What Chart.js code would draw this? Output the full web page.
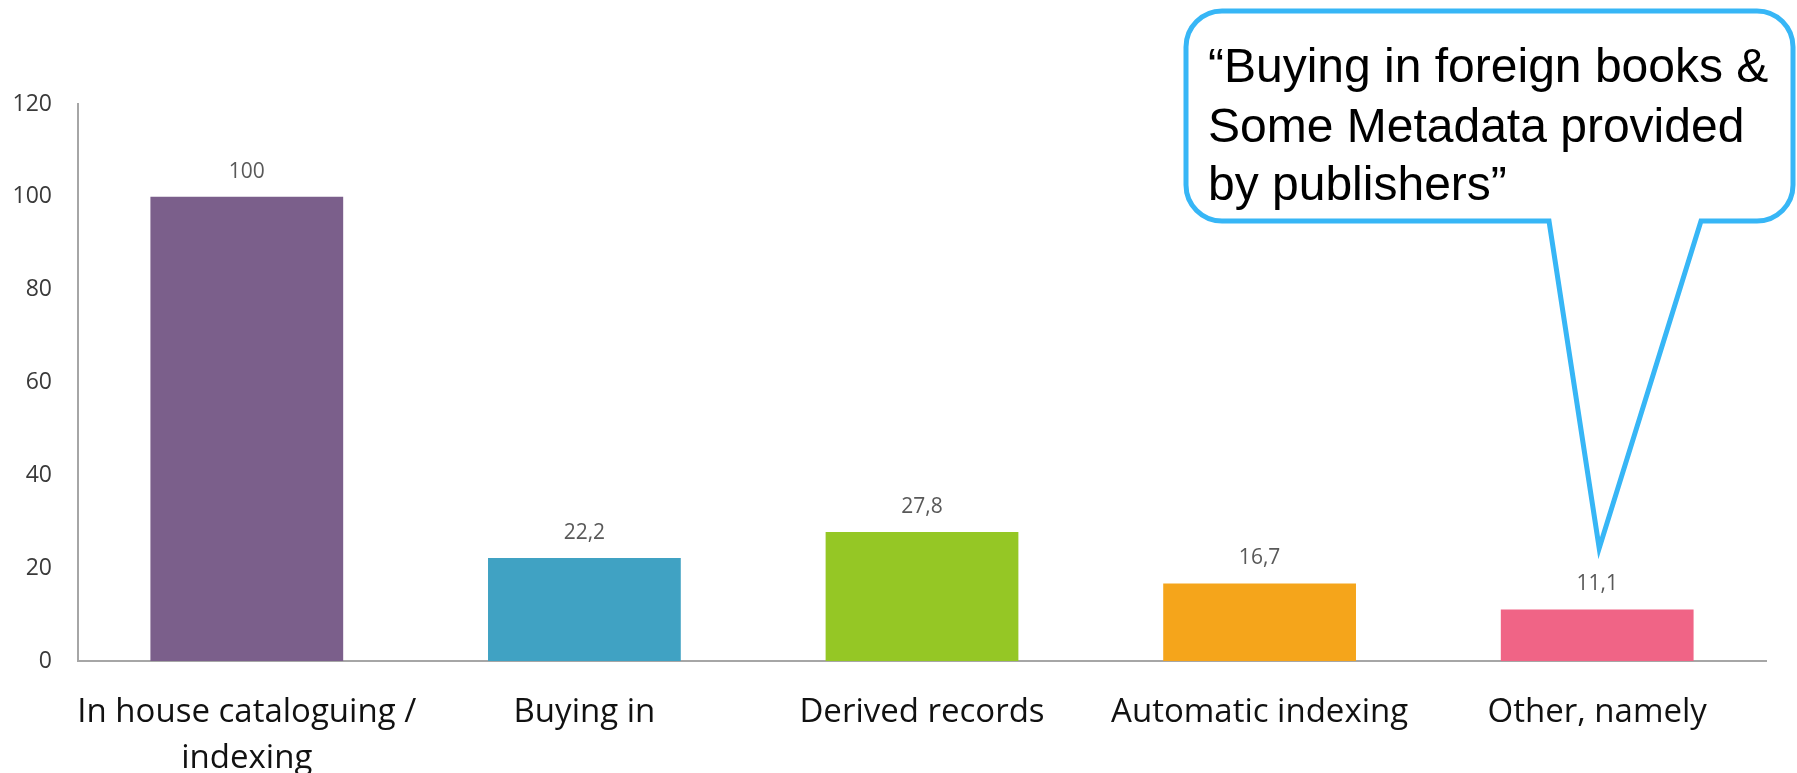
<!DOCTYPE html>
<html>
<head>
<meta charset="utf-8">
<script src="https://cdn.jsdelivr.net/npm/chart.js@4/dist/chart.umd.min.js"></script>
<style>
  html, body { margin: 0; padding: 0; background: #ffffff; }
  #wrap { width: 1797px; height: 773px; position: relative; }
</style>
</head>
<body>
<div id="wrap"><canvas id="c" width="1797" height="773"></canvas></div>
<script>
// ---- data ----
const categories = [["In house cataloguing /", "indexing"], "Buying in", "Derived records", "Automatic indexing", "Other, namely"];
const values = [100, 22.2, 27.8, 16.7, 11.1];
const barColors = ["#7B5F8B", "#40A2C3", "#95C725", "#F5A51B", "#F06486"];
const yMin = 0, yMax = 120, yStep = 20;
const calloutLines = ["\u201CBuying in foreign books &", "Some Metadata provided", "by publishers\u201D"];
const calloutTarget = { index: 4, value: 24.3 };

const fmt = v => String(v).replace('.', ',');

const valueLabels = {
  id: 'valueLabels',
  afterDatasetsDraw(chart) {
    const ctx = chart.ctx;
    const meta = chart.getDatasetMeta(0);
    ctx.save();
    ctx.font = '21px "Open Sans"';
    ctx.fillStyle = '#595959';
    ctx.textAlign = 'center';
    ctx.textBaseline = 'middle';
    meta.data.forEach((bar, i) => {
      ctx.fillText(fmt(values[i]), bar.x, bar.y - 25);
    });
    ctx.restore();
  }
};

const callout = {
  id: 'callout',
  afterDraw(chart) {
    const ctx = chart.ctx;
    const xs = chart.scales.x, ys = chart.scales.y;
    const tipX = xs.getPixelForValue(calloutTarget.index) + 2;
    const tipY = ys.getPixelForValue(calloutTarget.value);
    const L = 1186, T = 11, R = 1793, B = 221, r = 36;
    const p1 = 1549, p2 = 1701;
    ctx.save();
    ctx.beginPath();
    ctx.moveTo(L + r, T);
    ctx.lineTo(R - r, T);
    ctx.arcTo(R, T, R, T + r, r);
    ctx.lineTo(R, B - r);
    ctx.arcTo(R, B, R - r, B, r);
    ctx.lineTo(p2, B);
    ctx.lineTo(tipX, tipY);
    ctx.lineTo(p1, B);
    ctx.lineTo(L + r, B);
    ctx.arcTo(L, B, L, B - r, r);
    ctx.lineTo(L, T + r);
    ctx.arcTo(L, T, L + r, T, r);
    ctx.closePath();
    ctx.fillStyle = '#ffffff';
    ctx.fill();
    ctx.lineWidth = 5;
    ctx.strokeStyle = '#37B6F6';
    ctx.lineJoin = 'miter';
    ctx.stroke();
    ctx.fillStyle = '#000000';
    ctx.font = '48px "Liberation Sans"';
    ctx.textAlign = 'left';
    ctx.textBaseline = 'alphabetic';
    const baselines = [82, 142, 200];
    calloutLines.forEach((t, i) => ctx.fillText(t, 1208, baselines[i]));
    ctx.restore();
  }
};

new Chart(document.getElementById('c'), {
  type: 'bar',
  data: {
    labels: categories,
    datasets: [{
      data: values,
      backgroundColor: barColors,
      borderWidth: 0,
      categoryPercentage: 1.0,
      barPercentage: 0.571
    }]
  },
  options: {
    responsive: false,
    animation: false,
    events: [],
    layout: { padding: { left: 0, right: 31, top: 104, bottom: 0 } },
    plugins: { legend: { display: false }, tooltip: { enabled: false } },
    scales: {
      y: {
        min: yMin, max: yMax,
        ticks: { stepSize: yStep, padding: 26, color: '#3A3A3A', font: { family: 'Open Sans', size: 23 } },
        grid: { display: false, drawTicks: false },
        border: { display: true, color: '#A6A6A6', width: 2 },
        afterFit(scale) { scale.width = 78; }
      },
      x: {
        ticks: { padding: 29, color: '#111111', maxRotation: 0, autoSkip: false,
                 font: { family: 'Open Sans', size: 33, lineHeight: 1.39 } },
        grid: { display: false, drawTicks: false },
        border: { display: true, color: '#A6A6A6', width: 2 },
        afterFit(scale) { scale.height = 112; }
      }
    }
  },
  plugins: [valueLabels, callout]
});
</script>
</body>
</html>
